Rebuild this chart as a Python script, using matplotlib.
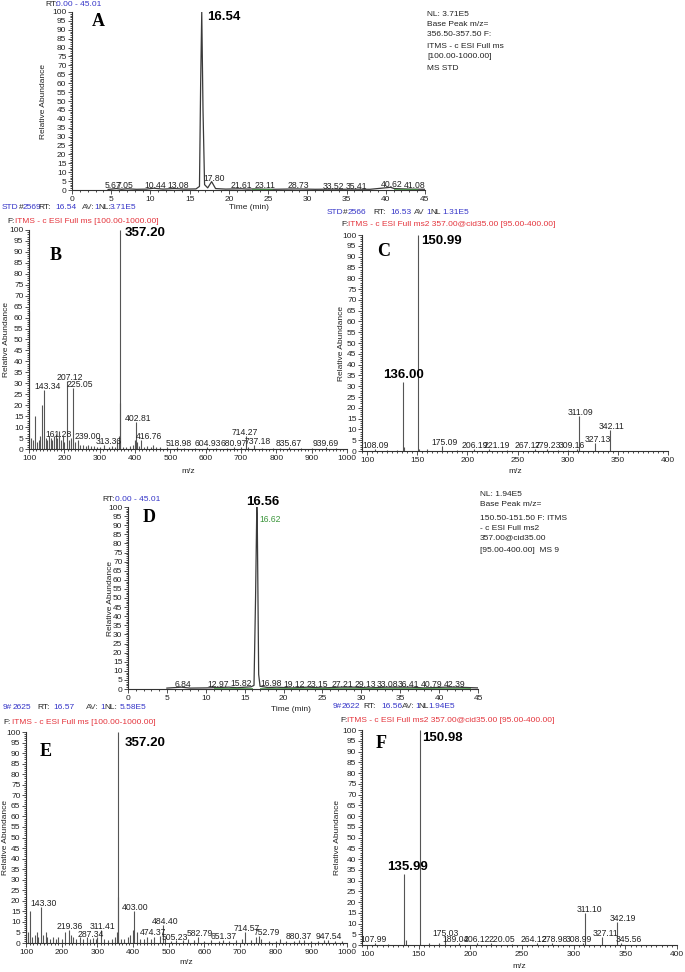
#%%
import numpy as np
import matplotlib.pyplot as plt
from matplotlib.ticker import MultipleLocator

plt.rcParams['font.family'] = ['Liberation Sans', 'DejaVu Sans']

BLUE = '#3535c8'
RED = '#e4343c'
GREEN = '#3c963c'
INK = '#222222'

# chromatogram A (standard), base peak 356.5-357.5
a_time = [4.6, 5.67, 6.3, 7.05, 8.2, 9.5, 10.44, 11.6, 13.08, 14.4, 15.8, 16.25, 16.4, 16.54, 16.7, 16.9,
          17.3, 17.80, 18.3, 19.6, 21.61, 22.4, 23.11, 25.5, 28.73, 31.0, 33.52, 34.4, 35.41, 38.0,
          40.62, 41.08, 43.0, 45.0]
a_int = [0.3, 0.8, 0.4, 0.7, 0.4, 0.5, 1.0, 0.5, 0.8, 0.5, 0.6, 2.0, 60, 100, 45, 3.0,
         1.2, 4.7, 0.8, 0.5, 0.7, 0.5, 0.6, 0.4, 0.6, 0.4, 0.5, 0.4, 0.5, 0.4,
         1.5, 0.8, 0.5, 0.4]
a_lab = [5.67, 7.05, 10.44, 13.08, 17.80, 21.61, 23.11, 28.73, 33.52, 35.41, 40.62, 41.08]
a_lab_x = [5.2, 6.8, 10.6, 13.5, 18.1, 21.6, 24.6, 28.8, 33.3, 36.3, 40.7, 43.7]
a_green = [(23.0, 25.5), (41.0, 44.0)]
a_info = ['NL: 3.71E5', 'Base Peak m/z=', '356.50-357.50 F:', 'ITMS - c ESI Full ms', '[100.00-1000.00]', 'MS STD']

# spectrum B, full ms of STD
b_mz = [100.5, 105, 110, 117, 122, 128, 132, 138, 143.34, 148, 152, 156, 161.28, 166, 171, 175, 180, 185,
        190, 195, 200, 207.12, 213, 219, 225.05, 231, 239.00, 245, 252, 260, 268, 275, 283, 292, 300,
        313.36, 325, 335, 343, 350, 355, 357.20, 358.2, 365, 375, 385, 395, 399, 402.81, 405, 410,
        416.76, 425, 435, 445, 452, 460, 470, 490, 518.98, 540, 570, 604.93, 630, 660, 680.97, 700,
        714.27, 720, 737.18, 760, 790, 810, 835.67, 870, 900, 939.69, 970]
b_int = [63, 5, 4, 15, 3, 4, 6, 20, 27, 5, 4, 6, 5, 4, 6, 7, 5, 8,
         4, 6, 3, 31, 4, 5, 28, 3, 4, 2, 2, 1.5, 2, 1.5, 1.5, 1, 1,
         2, 1, 1.5, 1, 3, 6, 100, 21, 1, 1, 1.5, 2, 4, 12.5, 3, 1.5,
         4, 1, 1.5, 1, 2, 1, 0.8, 0.8, 0.8, 0.6, 0.6, 0.8, 0.6, 0.6, 1, 0.8,
         6, 1, 2, 0.6, 0.6, 0.6, 0.8, 0.6, 0.6, 0.8, 0.6]
b_lab = [143.34, 207.12, 225.05, 161.28, 239.00, 313.36, 402.81, 416.76, 518.98, 604.93, 680.97,
         714.27, 737.18, 835.67, 939.69]
b_lab_x = [152, 215, 245, 184, 267, 326, 410, 439, 523, 607, 679, 710, 747, 835, 939]

# spectrum C, ms2 of 357 (STD)
c_mz = [108.09, 120, 130, 136.00, 137.2, 150.99, 152.2, 160, 175.09, 190, 206.19, 221.19, 240,
        267.17, 279.23, 290, 300, 309.16, 311.09, 327.13, 342.11]
c_int = [1, 0.5, 0.5, 32, 2, 100, 1, 1, 2.5, 0.5, 1, 1, 0.5,
         0.8, 1, 0.5, 0.5, 1, 16, 3.5, 9.5]
c_lab = [108.09, 175.09, 206.19, 221.19, 267.17, 279.23, 309.16, 311.09, 327.13, 342.11]
c_lab_x = [109, 177.6, 207, 229, 260, 280, 303.7, 313, 330, 343.5]

# chromatogram D (sample), base peak 150.5-151.5
d_time = [5.0, 6.84, 8.0, 10.0, 12.97, 14.0, 15.82, 16.2, 16.4, 16.56, 16.62, 16.8, 16.98, 18.0,
          19.12, 21.0, 23.15, 25.0, 27.21, 29.13, 31.0, 33.08, 36.41, 38.0, 40.79, 42.39, 45.0]
d_int = [0.5, 1.0, 0.5, 0.6, 1.0, 0.7, 1.2, 2.0, 50, 100, 93, 8, 1.5, 0.8,
         1.0, 0.6, 1.0, 0.6, 1.0, 1.0, 0.6, 1.0, 1.0, 0.6, 1.0, 1.0, 0.6]
d_lab = [6.84, 12.97, 15.82, 16.98, 19.12, 23.15, 27.21, 29.13, 33.08, 36.41, 40.79, 42.39]
d_lab_x = [7.1, 11.6, 14.5, 18.4, 21.3, 24.3, 27.5, 30.5, 33.3, 36.1, 39.0, 42.0]
d_green = [(11.0, 16.0), (17.0, 44.0)]
d_info = ['NL: 1.94E5', 'Base Peak m/z=', '150.50-151.50 F: ITMS', '- c ESI Full ms2', '357.00@cid35.00',
          '[95.00-400.00]  MS 9']

# spectrum E, full ms of sample
e_mz = [100.5, 105, 112, 118, 125, 130, 135, 143.30, 148, 155, 160, 168, 175, 185, 190, 200, 210,
        219.36, 225, 232, 240, 250, 260, 270, 280, 287.34, 295, 300, 311.41, 320, 330, 340, 350, 355,
        357.20, 358.2, 365, 375, 385, 392, 400, 403.00, 410, 420, 430, 440, 450, 460, 474.37, 484.40,
        490, 505.23, 520, 540, 555, 570, 582.79, 600, 620, 640, 651.37, 670, 690, 705, 714.57, 730,
        745, 752.79, 760, 780, 800, 812, 830, 850, 865, 880.37, 900, 920, 935, 947.54, 965, 985]
e_int = [62, 5, 15, 3, 4, 5, 3, 17, 4, 5, 3, 2, 3, 2, 3, 2, 5,
         6, 4, 3, 2, 3, 2, 3, 2, 2.5, 2, 3, 6.3, 2, 1.5, 2, 3, 5,
         100, 22, 2, 2, 3, 4, 6, 15, 5, 2, 2, 3, 2, 3, 3.5, 8.5,
         2, 1, 1.5, 1.5, 2, 1.5, 3, 1, 1.5, 1, 1.5, 1, 1.5, 2, 5, 1.5,
         3, 3.5, 2, 1, 1, 2, 1, 1, 1.5, 1.5, 1, 1, 1.5, 1.5, 1, 1]
e_lab = [143.30, 219.36, 287.34, 311.41, 403.00, 484.40, 474.37, 505.23, 582.79, 651.37, 714.57,
         752.79, 880.37, 947.54]
e_lab_x = [148, 222, 282, 314, 407, 489, 456, 517, 586, 653, 719, 776, 864, 949]

# spectrum F, ms2 of 357 (sample)
f_mz = [107.99, 120, 135.99, 137.2, 150.98, 160, 170, 175.03, 189.04, 206.12, 220.05, 240,
        264.12, 278.98, 308.99, 311.10, 327.11, 342.19, 345.56]
f_int = [1, 0.5, 33, 2.5, 100, 0.8, 1, 3.5, 1, 1, 1, 0.5,
         0.8, 0.8, 1, 15, 3.5, 10.5, 1]
f_lab = [107.99, 175.03, 189.04, 206.12, 220.05, 264.12, 278.98, 308.99, 311.10, 327.11, 342.19, 345.56]
f_lab_x = [106.6, 176, 186, 206, 230, 261, 282, 304.6, 315, 331, 347.5, 353]

W, H = 685, 972
fig = plt.figure(figsize=(W / 100, H / 100), dpi=100)


def px_axes(l, t, r, b):
    ax = fig.add_axes([l / W, 1 - b / H, (r - l) / W, (b - t) / H])
    ax.patch.set_alpha(0)
    return ax


def ftext(x, y, s, **kw):
    kw.setdefault('fontsize', 6)
    kw.setdefault('color', INK)
    fig.text(x / W, 1 - y / H, s, va='center', ha='left', **kw)


def style(ax, xlim, xmaj, xmin, xlabel, xlab_dy, ylab_x, xlab_x=0.5):
    # xlab_dy: px from axis line to centre of x label, ylab_x: px centre of y label
    ax.set_xlim(*xlim)
    ax.set_ylim(0, 100)
    ax.spines[['top', 'right']].set_visible(False)
    for s in ['left', 'bottom']:
        ax.spines[s].set_linewidth(0.8)
        ax.spines[s].set_color('#333333')
    ax.yaxis.set_major_locator(MultipleLocator(5))
    ax.yaxis.set_minor_locator(MultipleLocator(1))
    ax.xaxis.set_major_locator(MultipleLocator(xmaj))
    ax.xaxis.set_minor_locator(MultipleLocator(xmin))
    ax.tick_params(labelsize=6, length=3, width=0.6, pad=1, colors='#333333', labelcolor=INK)
    ax.tick_params(which='minor', length=1.6, width=0.5)
    ax.set_xlabel(xlabel, fontsize=6, color=INK)
    ax.set_ylabel('Relative Abundance', fontsize=6, color=INK)
    bb = ax.get_position()
    h_px = bb.height * H
    w_px = bb.width * W
    ax.xaxis.set_label_coords(xlab_x, -(xlab_dy - 4) / h_px)
    ax.yaxis.set_label_coords((ylab_x + 4 - bb.x0 * W) / w_px, 0.5)


def letter(x, y, s):
    fig.text(x / W, 1 - y / H, s, family=['Liberation Serif', 'DejaVu Serif'], fontweight='bold',
             fontsize=13, ha='center', va='center')


def big(ax, x, y, s, dx, dy, ha, va):
    ax.annotate(s, (x, y), xytext=(dx, dy), textcoords='offset pixels', ha=ha, va=va,
                fontsize=9.5, fontweight='bold', color='black', annotation_clip=False)


def chrom(ax, t, y, lab, lab_x, green):
    ax.plot(t, y, color='#3a3a3a', lw=0.9)
    for g0, g1 in green:
        ax.plot([g0, g1], [0.8, 0.8], color=GREEN, lw=0.7, alpha=0.8)
    h = dict(zip(t, y))
    for v, x in zip(lab, lab_x):
        ax.text(x, h[v] + 0.3, f'{v:.2f}', ha='center', va='baseline', fontsize=6.2, color=INK)


def spectrum(ax, mz, inten, lab, lab_x):
    ax.vlines(mz, 0, inten, color='#555555', lw=0.8)
    h = dict(zip(mz, inten))
    for v, x in zip(lab, lab_x):
        ax.text(x, h[v] + 0.5, f'{v:.2f}', ha='center', va='baseline', fontsize=6.2, color=INK)


# ---- A ----
ax = px_axes(72, 12, 425, 190)
style(ax, (0, 45), 5, 1, 'Time (min)', 18, 43)
chrom(ax, a_time, a_int, a_lab, a_lab_x, a_green)
big(ax, 16.54, 100, '16.54', 5, 1, 'left', 'top')
ftext(45, 4, 'RT:')
ftext(56, 4, '0.00 - 45.01', color=BLUE)
for s, yy in zip(a_info, [14, 24.5, 35, 46, 57, 68]):
    ftext(427, yy, s)
letter(98, 21, 'A')

# ---- B ----
ax = px_axes(29, 230, 347, 449)
style(ax, (100, 1000), 100, 10, 'm/z', 23, 6)
spectrum(ax, b_mz, b_int, b_lab, b_lab_x)
big(ax, 357.20, 100, '357.20', 5, 3, 'left', 'top')
for x, s, c in [(2, 'STD', BLUE), (19, '#', INK), (23, '2569', BLUE), (38, 'RT:', INK), (55, '16.54', BLUE),
                (82, 'AV:', '#444444'), (94, '1', BLUE), (98, 'NL:', INK), (110, '3.71E5', BLUE)]:
    ftext(x, 207, s, color=c)
ftext(7, 221, 'F:')
ftext(15, 221, 'ITMS - c ESI Full ms [100.00-1000.00]', color=RED)
letter(56, 256, 'B')

# ---- C ----
ax = px_axes(362, 235, 668, 451)
style(ax, (95, 400), 50, 5, 'm/z', 21, 341)
spectrum(ax, c_mz, c_int, c_lab, c_lab_x)
big(ax, 150.99, 100, '150.99', 3, 0, 'left', 'top')
big(ax, 136.00, 32, '136.00', 0, 1, 'center', 'bottom')
for x, s, c in [(327, 'STD', BLUE), (343, '#', INK), (348, '2566', BLUE), (373, 'RT:', INK), (390, '16.53', BLUE),
                (414, 'AV', '#444444'), (426, '1', BLUE), (430, 'NL', INK), (442, '1.31E5', BLUE)]:
    ftext(x, 213, s, color=c)
ftext(341, 225, 'F:')
ftext(348, 225, 'ITMS - c ESI Full ms2 357.00@cid35.00 [95.00-400.00]', color=RED)
letter(384, 251, 'C')

# ---- D ----
ax = px_axes(128, 507, 478, 689)
style(ax, (0, 45), 5, 1, 'Time (min)', 21, 110, xlab_x=0.466)
chrom(ax, d_time, d_int, d_lab, d_lab_x, d_green)
big(ax, 16.56, 100, '16.56', 6, -1, 'center', 'bottom')
ax.annotate('16.62', (16.62, 93), xytext=(2, 0), textcoords='offset pixels', ha='left', va='center',
            fontsize=6.2, color=GREEN)
ftext(102, 499, 'RT:')
ftext(115, 499, '0.00 - 45.01', color=BLUE)
for s, yy in zip(d_info, [494, 504, 518, 528, 538, 551]):
    ftext(480, yy, s)
letter(149, 518, 'D')

# ---- E ----
ax = px_axes(26, 732, 347, 943)
style(ax, (100, 1000), 100, 10, 'm/z', 20, 5)
spectrum(ax, e_mz, e_int, e_lab, e_lab_x)
big(ax, 357.20, 100, '357.20', 7, -5, 'left', 'top')
for x, s, c in [(3, '9#', BLUE), (13, '2625', BLUE), (37, 'RT:', INK), (53, '16.57', BLUE),
                (86, 'AV:', '#444444'), (100, '1', BLUE), (104, 'NL:', INK), (120, '5.58E5', BLUE)]:
    ftext(x, 707, s, color=c)
ftext(3, 723, 'F:')
ftext(12, 723, 'ITMS - c ESI Full ms [100.00-1000.00]', color=RED)
letter(46, 751, 'E')

# ---- F ----
ax = px_axes(362, 730, 677, 945)
style(ax, (95, 400), 50, 5, 'm/z', 22, 337)
spectrum(ax, f_mz, f_int, f_lab, f_lab_x)
big(ax, 150.98, 100, '150.98', 2, -2, 'left', 'top')
big(ax, 135.99, 33, '135.99', 3, 1, 'center', 'bottom')
for x, s, c in [(333, '9#', BLUE), (342, '2622', BLUE), (363, 'RT:', INK), (381, '16.56', BLUE),
                (402, 'AV:', '#444444'), (415, '1', BLUE), (418, 'NL', INK), (428, '1.94E5', BLUE)]:
    ftext(x, 706, s, color=c)
ftext(340, 720, 'F:')
ftext(347, 720, 'ITMS - c ESI Full ms2 357.00@cid35.00 [95.00-400.00]', color=RED)
letter(381, 744, 'F')

fig.savefig('out.png', dpi=100)
